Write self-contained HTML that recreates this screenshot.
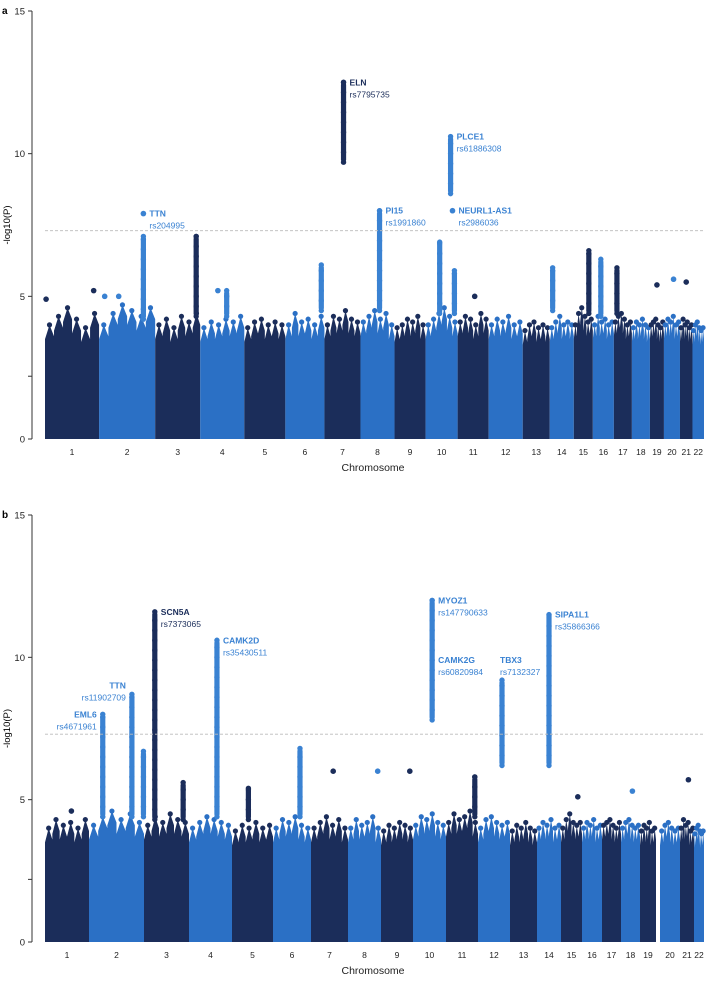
<!DOCTYPE html>
<html><head><meta charset="utf-8"><style>
body{margin:0;background:#fff;font-family:"Liberation Sans",Arial,sans-serif}
svg text{font-family:"Liberation Sans",Arial,sans-serif}
</style></head><body>
<svg id="s" width="706" height="978" viewBox="0 0 706 978"></svg>
<script>
const chromosomes=["1","2","3","4","5","6","7","8","9","10","11","12","13","14","15","16","17","18","19","20","21","22"];
// relative chromosome widths (SNP counts, arbitrary units) per panel
const chrWidthsA=[54,56,45,44,41,39,36,34,31,32,31,34,27,24,19,21,18,18,14,16,12.5,11.5];
const chrWidthsB=[44,55,45,43,41,38,37,33,32,33,32,32,27,24,21,20,19,19,16,20,14,10];
const yTicks=[0,5,10,15];
const skylineA=[[4.0,4.3,4.6,4.2,3.9,4.4],[4.0,4.4,4.7,4.5,4.3,4.6],[4.0,4.2,3.9,4.3,4.1,4.4],[3.9,4.1,4.0,4.2,4.1,4.3],[3.9,4.1,4.2,4.0,4.1,4.0],[4.0,4.4,4.1,4.2,4.0,4.3],[4.0,4.3,4.2,4.5,4.2,4.1],[4.1,4.3,4.5,4.2,4.4,4.0],[3.9,4.0,4.2,4.1,4.3,4.0],[4.0,4.2,4.4,4.6,4.3,4.1],[4.1,4.3,4.2,4.0,4.4,4.2],[4.0,4.2,4.1,4.3,4.0,4.1],[3.8,4.0,4.1,3.9,4.0,3.9],[3.9,4.1,4.3,4.0,4.1,4.0],[4.0,4.4,4.6,4.3,4.1,4.2],[4.0,4.3,4.1,4.2,4.0,4.1],[4.1,4.3,4.4,4.2,4.0,4.1],[3.9,4.1,4.0,4.2,4.0,3.9],[4.0,4.1,4.2,4.0,3.9,4.1],[4.0,4.2,4.1,4.3,4.0,4.1],[3.9,4.2,4.0,4.1,3.9,4.0],[3.8,4.0,4.1,3.9,3.8,3.9]];
const skylineB=[[4.0,4.3,4.1,4.2,4.0,4.3],[4.1,4.4,4.6,4.3,4.5,4.2],[4.1,4.4,4.2,4.5,4.3,4.2],[4.0,4.2,4.4,4.3,4.2,4.1],[3.9,4.1,4.0,4.2,4.0,4.1],[4.0,4.3,4.2,4.4,4.1,4.0],[4.0,4.2,4.4,4.1,4.3,4.0],[4.0,4.3,4.1,4.2,4.4,4.0],[3.9,4.1,4.0,4.2,4.1,4.0],[4.1,4.4,4.3,4.5,4.2,4.1],[4.2,4.5,4.3,4.4,4.6,4.2],[4.0,4.3,4.4,4.2,4.1,4.2],[3.9,4.1,4.0,4.2,4.0,3.9],[4.0,4.2,4.1,4.3,4.0,4.1],[4.0,4.3,4.5,4.2,4.1,4.2],[4.0,4.2,4.1,4.3,4.0,4.1],[4.1,4.2,4.3,4.1,4.0,4.2],[4.0,4.2,4.3,4.1,4.0,4.1],[3.9,4.1,4.0,4.2,3.9,4.0],[3.9,4.1,4.2,4.0,3.9,4.0],[4.0,4.3,4.1,4.2,3.9,4.0],[3.8,4.0,4.1,3.9,3.8,3.9]];
// columns: [chr index, fraction within chromosome, top value, bottom value]
const columnsA=[[1,0.79,7.1,4.2],[2,0.91,7.1,4.3],[6,0.53,12.5,9.7],[7,0.56,8.0,4.5],[9,0.78,10.6,8.6],[9,0.44,6.9,4.4],[9,0.9,5.9,4.4],[14,0.79,6.6,4.4],[15,0.38,6.3,4.3],[5,0.92,6.1,4.5],[13,0.12,6.0,4.5],[16,0.17,6.0,4.4],[3,0.6,5.2,4.3]];
const singlesA=[[1,0.79,7.9],[9,0.84,8.0],[0,0.02,4.9],[0,0.9,5.2],[1,0.1,5.0],[1,0.35,5.0],[3,0.4,5.2],[10,0.55,5.0],[18,0.5,5.4],[19,0.6,5.6],[20,0.5,5.5]];
const columnsB=[[1,0.25,8.0,4.4],[1,0.78,8.7,4.4],[1,0.99,6.7,4.4],[2,0.24,11.6,4.3],[2,0.87,5.6,4.3],[3,0.65,10.6,4.4],[9,0.58,12.0,7.8],[11,0.75,9.2,6.2],[13,0.5,11.5,6.2],[5,0.71,6.8,4.4],[10,0.9,5.8,4.4],[4,0.4,5.4,4.3]];
const singlesB=[[6,0.6,6.0],[7,0.9,6.0],[8,0.9,6.0],[20,0.6,5.7],[17,0.6,5.3],[0,0.6,4.6],[14,0.8,5.1]];
// labels: [chr, frac, value, gene, rsid, style]  style 0=right of point,1=dark right,2=left of point,3=above
const labelsA=[[1,0.79,7.9,"TTN","rs204995",0],[6,0.53,12.5,"ELN","rs7795735",1],[7,0.56,8.0,"PI15","rs1991860",0],[9,0.78,10.6,"PLCE1","rs61886308",0],[9,0.84,8.0,"NEURL1-AS1","rs2986036",0]];
const labelsB=[[1,0.25,8.0,"EML6","rs4671961",2],[1,0.78,8.7,"TTN","rs11902709",4],[2,0.24,11.6,"SCN5A","rs7373065",1],[3,0.65,10.6,"CAMK2D","rs35430511",0],[9,0.58,12.0,"MYOZ1","rs147790633",0],[9,0.58,9.9,"CAMK2G","rs60820984",0],[11,0.75,9.2,"TBX3","rs7132327",3],[13,0.5,11.5,"SIPA1L1","rs35866366",0]];
const DARK="#1b2d5a",BLUE="#2b70c5",LB="#3a82d2";
const NS="http://www.w3.org/2000/svg",svg=document.getElementById('s');
function el(t,a,p){const e=document.createElementNS(NS,t);for(const k in a)e.setAttribute(k,a[k]);(p||svg).appendChild(e);return e;}
const X0=45,X1=704;
function makeX(widths,gapAfter){
  const total=widths.reduce((a,b)=>a+b,0)+(gapAfter>=0?4:0);const offs=[];let c=0;
  widths.forEach((w,i)=>{offs.push(c);c+=w;if(i===gapAfter)c+=4;});
  const k=(X1-X0)/total;
  return {start:i=>X0+offs[i]*k,end:i=>X0+(offs[i]+widths[i])*k,at:(i,f)=>X0+(offs[i]+f*widths[i])*k};
}
function panel(y0,y15,sky,widths,gap,cols,singles,labels,letter,name){
  const X=makeX(widths,gap);
  const g=el('g',{});  
  const yS=v=>y0-(v/15)*(y0-y15);
  const t=el('text',{x:2,y:y15+3,'font-size':10,'font-weight':'bold'},g);t.textContent=letter;
  
  const ax=el('line',{x1:32,y1:y15,x2:32,y2:y0,stroke:'#333','stroke-width':1},g);
  
  yTicks.forEach(v=>{el('line',{x1:28,x2:32,y1:yS(v),y2:yS(v),stroke:'#333'},g);
    const tt=el('text',{x:25,y:yS(v)+3.5,'font-size':9.5,'text-anchor':'end',fill:'#222'},g);tt.textContent=v;
    });
  el('line',{x1:28,x2:32,y1:yS(2.2),y2:yS(2.2),stroke:'#333'},g);
  const yl=el('text',{x:0,y:0,'font-size':9.5,'text-anchor':'middle',transform:`translate(10,${(y0+y15)/2}) rotate(-90)`},g);yl.textContent='-log10(P)';
  
  chromosomes.forEach((ch,i)=>{
    const col=i%2?BLUE:DARK; const xs=X.start(i),xe=X.end(i); const vals=sky[i];
    let d=`M${xs},${y0}`; const n=vals.length;
    vals.forEach((v,k)=>{const a=xs+(xe-xs)*k/n,b=xs+(xe-xs)*(k+1)/n;d+=` L${a},${yS(v-0.5)} L${(a+b)/2},${yS(v)} L${b},${yS(v-0.4)}`;});
    d+=` L${xe},${y0} Z`;
    const p=el('path',{d:d,fill:col},g);
    vals.forEach((v,k)=>{const a=xs+(xe-xs)*(k+0.5)/n;const dt=el('circle',{cx:a,cy:yS(v),r:2.6,fill:col},g);
      });
    const lb=el('text',{x:(xs+xe)/2,y:y0+16,'font-size':8.5,'text-anchor':'middle',fill:'#222'},g);lb.textContent=ch;
    
  });
  cols.forEach(([ch,f,top,bot])=>{const col=ch%2?LB:DARK;const x=X.at(ch,f);
    const cg=el('g',{},g);
    el('rect',{x:x-2.6,y:yS(top),width:5.2,height:yS(bot)-yS(top),rx:2.6,fill:col},cg);
    for(let v=bot;v<=top;v+=0.35)el('circle',{cx:x,cy:yS(v),r:2.7,fill:col},cg);
    el('circle',{cx:x,cy:yS(top),r:2.7,fill:col},cg);});
  singles.forEach(([ch,f,v])=>{const dt=el('circle',{cx:X.at(ch,f),cy:yS(v),r:2.8,fill:ch%2?LB:DARK},g);
    });
  const th=el('line',{x1:X0,x2:X1,y1:yS(7.3),y2:yS(7.3),stroke:'#bbb','stroke-dasharray':'3,2','stroke-width':0.8},g);
  
  labels.forEach(([ch,f,v,gene,rs,al])=>{const x=X.at(ch,f),y=yS(v);const col=al===1||ch%2===0?DARK:LB;
    let anchor='start',tx=x+6,gy=y+3,ry=y+15;
    if(al===2){anchor='end';tx=x-6;}
    if(al===4){anchor='end';tx=x-6;gy=y-6;ry=y+6;}
    if(al===3){tx=x-2;gy=y-17;ry=y-5;}
    const a=el('text',{x:tx,y:gy,'font-size':8.5,'font-weight':'bold',fill:col,'text-anchor':anchor},g);a.textContent=gene;
    
    const b=el('text',{x:tx,y:ry,'font-size':8.5,fill:col,'text-anchor':anchor},g);b.textContent=rs;
    });
  const xt=el('text',{x:373,y:y0+32,'font-size':10.5,'text-anchor':'middle',fill:'#222'},g);xt.textContent='Chromosome';
  
}
panel(439,11,skylineA,chrWidthsA,-1,columnsA,singlesA,labelsA,'a','panel-a');
panel(942,515,skylineB,chrWidthsB,18,columnsB,singlesB,labelsB,'b','panel-b');
</script>
</body></html>
